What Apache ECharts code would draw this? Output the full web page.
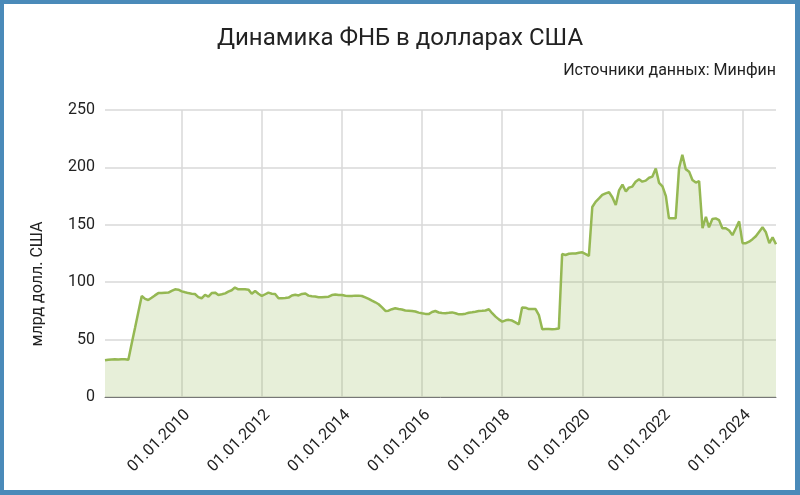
<!DOCTYPE html>
<html>
<head>
<meta charset="utf-8">
<script src="https://cdn.jsdelivr.net/npm/echarts@6/dist/echarts.min.js"></script>
<style>
html,body{margin:0;padding:0;background:#fff;}
#c{position:absolute;left:0;top:0;width:800px;height:495px;}
#frame{position:absolute;left:0;top:0;width:800px;height:495px;box-sizing:border-box;border-style:solid;border-color:#4a8ab9;border-width:4px 5px 5px 4px;pointer-events:none;}
</style>
</head>
<body>
<div id="c"></div>
<div id="frame"></div>
<script>
// Monthly values, billion USD, starting Feb 2008
const startYear = 2008, startMonth = 2;
const v2008 = [32.0, 32.4, 32.7, 32.8, 32.7, 32.9, 32.8, 32.5, 46.4, 60.3, 74.1];
const v2009 = [88.0, 85.5, 84.5, 86.5, 88.5, 90.5, 90.5, 90.8, 91.0, 92.5, 93.8, 93.5];
const v2010 = [92.0, 91.2, 90.5, 90.0, 89.7, 87.0, 86.0, 88.9, 87.4, 90.5, 90.9, 88.9];
const v2011 = [89.5, 90.3, 91.8, 93.0, 95.3, 93.8, 93.8, 93.8, 93.5, 90.0, 92.3, 90.0];
const v2012 = [88.0, 89.5, 90.9, 90.0, 89.7, 86.0, 86.0, 86.2, 86.6, 88.4, 89.0, 88.5];
const v2013 = [89.8, 90.1, 88.3, 87.8, 87.5, 86.9, 86.9, 87.2, 87.4, 88.8, 89.3, 88.9];
const v2014 = [88.9, 88.2, 88.0, 88.0, 88.3, 88.3, 88.0, 86.8, 85.5, 84.0, 82.5, 80.8];
const v2015 = [78.0, 75.0, 75.2, 76.5, 77.3, 76.6, 76.2, 75.4, 75.2, 75.0, 74.5, 73.5];
const v2016 = [72.9, 72.4, 72.2, 74.0, 74.9, 73.6, 73.2, 72.9, 73.3, 73.7, 73.0, 72.0];
const v2017 = [72.0, 72.6, 73.4, 73.8, 74.3, 74.9, 75.1, 75.4, 76.4, 73.0, 70.0, 67.6];
const v2018 = [65.7, 66.8, 67.2, 66.6, 65.0, 63.3, 78.0, 77.8, 76.6, 76.6, 76.6, 71.4];
const v2019 = [59.0, 59.2, 59.2, 59.1, 59.2, 59.6, 124.5, 123.7, 124.8, 125.1, 125.0, 125.6];
const v2020 = [126.0, 124.5, 123.0, 165.5, 170.0, 173.0, 176.0, 177.4, 178.3, 174.0, 167.2, 180.0];
const v2021 = [185.0, 179.0, 182.4, 183.3, 187.5, 189.7, 187.6, 188.5, 191.0, 192.0, 199.0, 186.5];
const v2022 = [183.5, 175.0, 155.6, 155.6, 155.6, 199.2, 211.0, 198.5, 196.3, 189.0, 186.8, 188.0];
const v2023 = [147.0, 157.0, 147.8, 155.0, 155.6, 154.0, 147.0, 147.0, 145.0, 141.0, 147.0, 153.0];
const v2024 = [134.0, 134.0, 135.3, 137.5, 140.0, 144.0, 147.8, 143.5, 134.0, 139.0, 133.0];
const tickYears = [2010, 2012, 2014, 2016, 2018, 2020, 2022, 2024];
const yTicks = [0, 50, 100, 150, 200, 250];

const values = [].concat(v2008, v2009, v2010, v2011, v2012, v2013, v2014, v2015,
  v2016, v2017, v2018, v2019, v2020, v2021, v2022, v2023, v2024);
const seriesData = values.map((v, i) => {
  const m0 = startMonth - 1 + i;
  const y = startYear + Math.floor(m0 / 12);
  const m = m0 % 12;
  return [Date.UTC(y, m, 1), v];
});
const tickValues = tickYears.map(y => Date.UTC(y, 0, 1));

const chart = echarts.init(document.getElementById('c'));
const font = 'Roboto';
chart.setOption({
  backgroundColor: '#fff',
  animation: false,
  textStyle: { fontFamily: font },
  title: [
    { text: 'Динамика ФНБ в долларах США', left: 'center', top: 27, padding: 0,
      textStyle: { fontFamily: font, fontSize: 24, fontWeight: 'normal', color: '#222' } },
    { text: 'Источники данных: Минфин', right: 24, top: 63, padding: 0,
      textStyle: { fontFamily: font, fontSize: 16, fontWeight: 'normal', color: '#222' } }
  ],
  grid: { left: 105, right: 24, top: 110, bottom: 98 },
  xAxis: {
    type: 'value',
    min: seriesData[0][0],
    max: seriesData[seriesData.length - 1][0],
    axisLine: { show: true, onZero: false, lineStyle: { color: '#777', width: 1 } },
    axisTick: { show: false, customValues: tickValues },
    splitLine: { show: true, lineStyle: { color: '#d9d9d9', width: 1.5 } },
    axisLabel: {
      customValues: tickValues,
      rotate: 45, margin: 10, align: 'right', verticalAlign: 'top',
      fontFamily: font, fontSize: 16, color: '#222',
      formatter: v => '01.01.' + new Date(v).getUTCFullYear()
    }
  },
  yAxis: {
    type: 'value', min: yTicks[0], max: yTicks[yTicks.length - 1], interval: 50,
    axisLine: { show: false }, axisTick: { show: false },
    splitLine: { lineStyle: { color: '#d9d9d9', width: 1.5 } },
    axisLabel: { margin: 10, fontFamily: font, fontSize: 16, color: '#222' }
  },
  graphic: [{
    type: 'text', x: 38, y: 284, rotation: Math.PI / 2,
    style: { text: 'млрд долл. США', font: '16px Roboto', fill: '#222',
      align: 'center', verticalAlign: 'middle' }
  }],
  series: [{
    type: 'line', data: seriesData, showSymbol: false, symbol: 'none',
    lineStyle: { color: '#95b853', width: 2.5 },
    itemStyle: { color: '#95b853' },
    areaStyle: { color: 'rgba(149,184,83,0.32)' }
  }]
});
</script>
</body>
</html>
